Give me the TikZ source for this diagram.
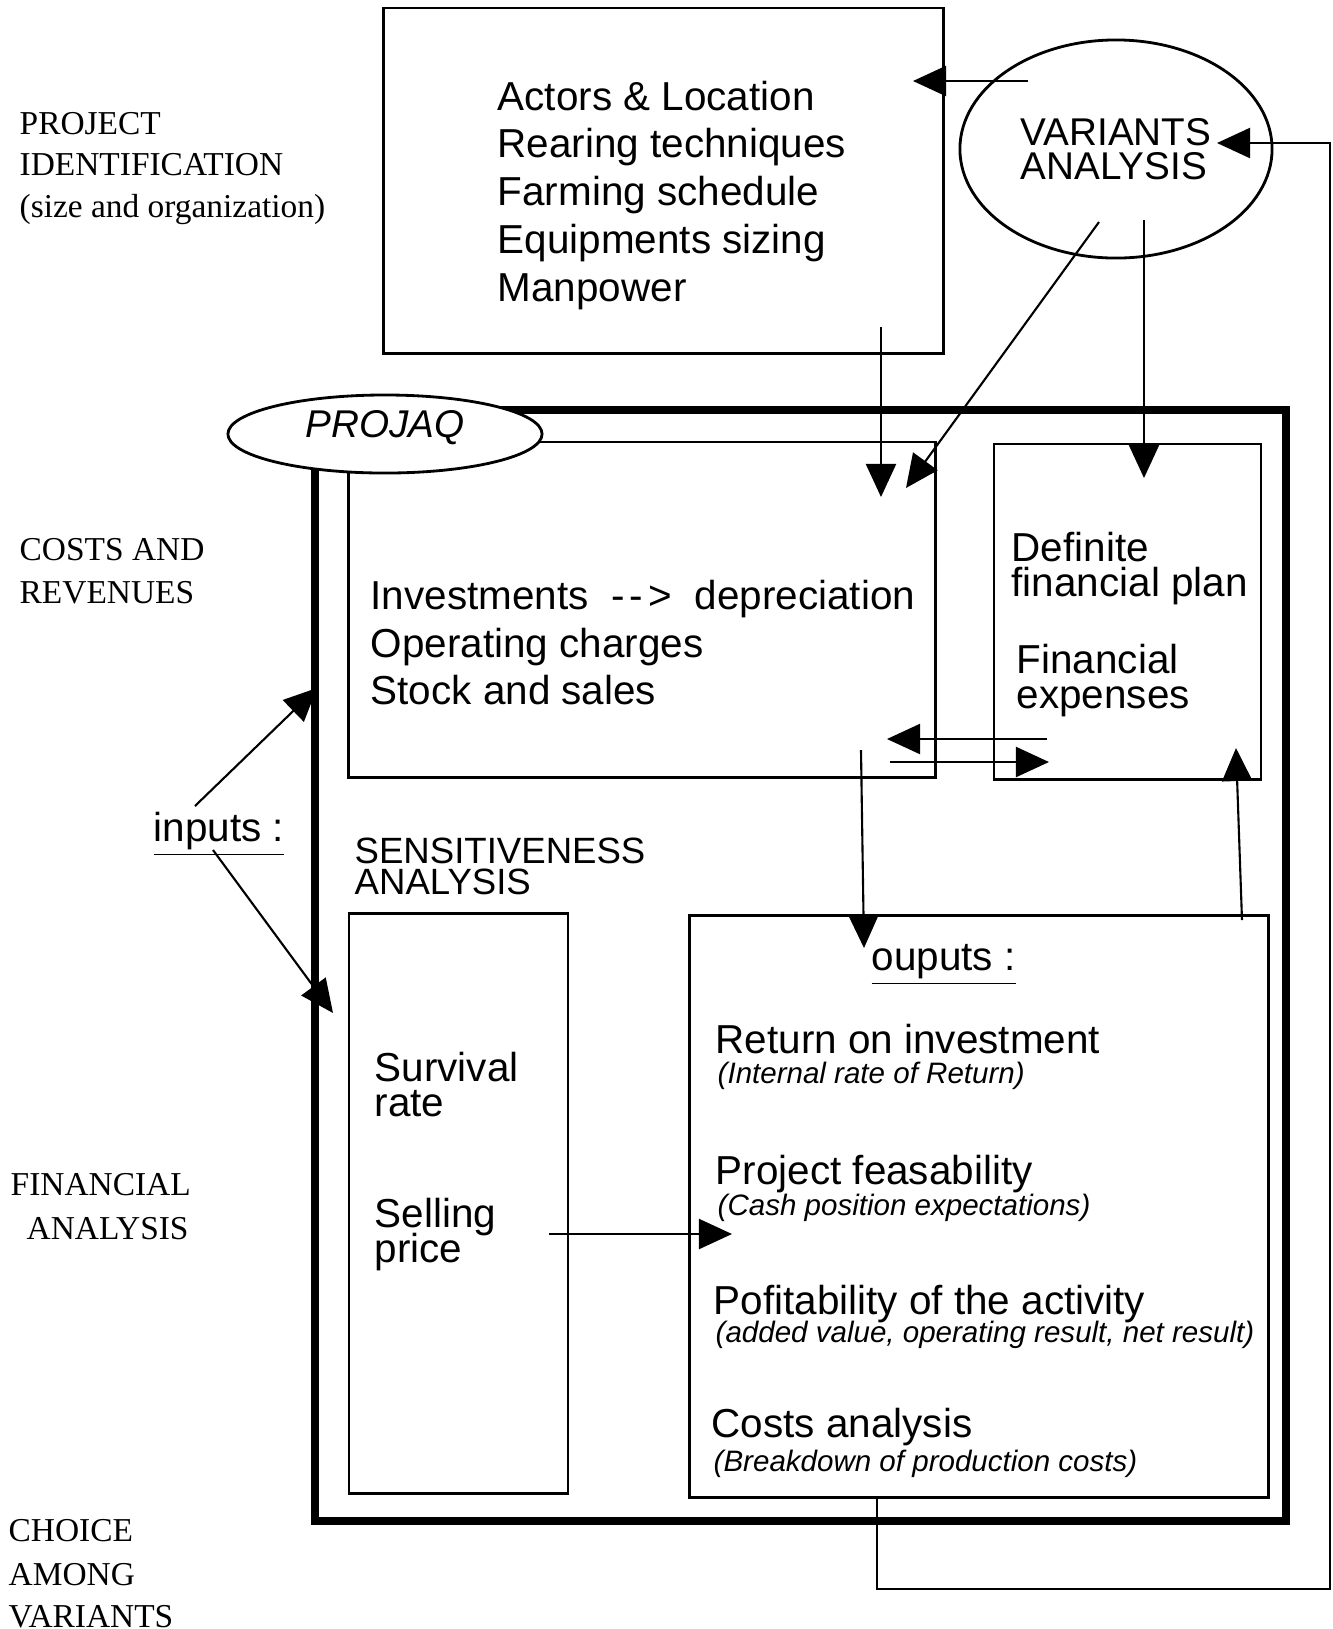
\documentclass[tikz,border=0pt]{standalone}
\usepackage{fontspec}
\setmainfont{Liberation Sans}
\newfontfamily\serifface{Liberation Serif}
\usetikzlibrary{arrows.meta,shapes.geometric}

\begin{document}
\begin{tikzpicture}[x=0.01cm, y=-0.01cm,
        box/.style={draw, line width=0.8pt, inner sep=0pt},
        arr/.style={-{Triangle[length=0.33cm,width=0.3cm]}, line width=0.6pt},
        txt/.style={anchor=base west, inner sep=0pt, font=\fontsize{11.5}{13}\selectfont},
        pair/.style={anchor=base west, inner sep=0pt, align=left,
            font=\fontsize{11.5}{9.8}\selectfont\setlength{\lineskiplimit}{-20pt}},
        note/.style={anchor=base west, inner sep=0pt, font=\fontsize{8.4}{10}\selectfont\itshape},
        side/.style={anchor=base west, inner sep=0pt, font=\fontsize{9.5}{11}\serifface}]
        \useasboundingbox (0,0) rectangle (1332,1629);

        % left column
        \node[side] (pi1) at (19,134) {PROJECT};
        \node[side] (pi2) at (19,175) {IDENTIFICATION};
        \node[side] (pi3) at (19,217) {(size and organization)};
        \node[side] (cr1) at (19,560) {COSTS AND};
        \node[side] (cr2) at (19,603) {REVENUES};
        \node[side] (fa1) at (10,1195) {FINANCIAL};
        \node[side] (fa2) at (26,1239) {ANALYSIS};
        \node[side] (ca1) at (8,1541) {CHOICE};
        \node[side] (ca2) at (8,1585) {AMONG};
        \node[side] (ca3) at (8,1627) {VARIANTS};

        % boxes
        \node[box, minimum width=5.59cm, minimum height=3.45cm] (topbox) at (663.5,180.5) {};
        \node[box, line width=2.3pt, minimum width=9.71cm, minimum height=11.11cm] (frame) at (800.5,965.5) {};
        \node[box, minimum width=5.86cm, minimum height=3.35cm] (inv) at (642,609.5) {};
        \node[box, minimum width=2.67cm, minimum height=3.35cm] (plan) at (1127.5,611.5) {};
        \node[box, minimum width=2.19cm, minimum height=5.79cm] (sens) at (458.5,1203.5) {};
        \node[box, minimum width=5.78cm, minimum height=5.81cm] (outbox) at (979,1206.5) {};

        \node[box, ellipse, fill=white, minimum width=3.14cm, minimum height=0.78cm,
            font=\fontsize{11}{13}\selectfont\itshape, text height=8pt, text depth=6pt] (projaq) at (385,434) {PROJAQ};
        \node[box, ellipse, minimum width=3.12cm, minimum height=2.18cm, align=left,
            font=\fontsize{11}{9.7}\selectfont] (variants) at (1116,149) {VARIANTS\\ANALYSIS};

        % texts
        \node[txt] (t1) at (497,110) {Actors \& Location};
        \node[txt] (t2) at (497,157) {Rearing techniques};
        \node[txt] (t3) at (497,205) {Farming schedule};
        \node[txt] (t4) at (497,253) {Equipments sizing};
        \node[txt] (t5) at (497,301) {Manpower};

        \node[txt] (c1) at (370,609) {Investments \ -\kern1.5pt-\kern1.5pt> \ depreciation};
        \node[txt] (c2) at (370,657) {Operating charges};
        \node[txt] (c3) at (370,704) {Stock and sales};

        \node[pair] (d1) at (1011,596) {Definite\\financial plan};
        \node[pair] (d2) at (1016,708) {Financial\\expenses};

        \node[pair, font=\fontsize{10.4}{8.8}\selectfont\setlength{\lineskiplimit}{-20pt}] (sa) at (354,894) {SENSITIVENESS\\ANALYSIS};

        \node[txt] (inputs) at (153,841) {\underline{inputs :}};
        \node[pair] (s1) at (374,1116) {Survival\\rate};
        \node[pair] (s2) at (374,1262) {Selling\\price};

        \node[txt] (ouputs) at (871,970) {\underline{ouputs :}};
        \node[txt] (o1) at (715,1053) {Return on investment};
        \node[note] (n1) at (717,1083) {(Internal rate of Return)};
        \node[txt] (o2) at (715,1184) {Project feasability};
        \node[note] (n2) at (717,1215) {(Cash position expectations)};
        \node[txt] (o3) at (713,1314) {Pofitability of the activity};
        \node[note] (n3) at (715,1342) {(added value, operating result, net result)};
        \node[txt] (o4) at (711,1437) {Costs analysis};
        \node[note] (n4) at (713,1471) {(Breakdown of production costs)};

        % arrow ends
        \coordinate (va) at (1028,81);
        \coordinate (ta) at (913,81);
        \coordinate (vb) at (1099,222);
        \coordinate (ia) at (906,488);
        \coordinate (vc) at (1144,220);
        \coordinate (pa) at (1144,478);
        \coordinate (tb) at (881,327);
        \coordinate (ib) at (881,497);
        \coordinate (ua) at (195,806);
        \coordinate (fa) at (317,688);
        \coordinate (ub) at (213,850);
        \coordinate (fb) at (333,1013);
        \coordinate (pb) at (1047,739);
        \coordinate (ic) at (887,739);
        \coordinate (id) at (890,762);
        \coordinate (pc) at (1049,762);
        \coordinate (ie) at (861,750);
        \coordinate (oa) at (864,948);
        \coordinate (ob) at (1242,920);
        \coordinate (pd) at (1236,748);
        \coordinate (sb) at (549,1234);
        \coordinate (oc) at (732,1234);
        \coordinate (fb1) at (877,1589);
        \coordinate (fb2) at (1330,1589);
        \coordinate (fb3) at (1330,143);
        \coordinate (vd) at (1217,143);

        % connectors
        \draw[arr] (va) -- (ta);
        \draw[arr] (vb) -- (ia);
        \draw[arr] (vc) -- (pa);
        \draw[arr] (tb) -- (ib);
        \draw[arr] (ua) -- (fa);
        \draw[arr] (ub) -- (fb);
        \draw[arr] (pb) -- (ic);
        \draw[arr] (id) -- (pc);
        \draw[arr] (ie) -- (oa);
        \draw[arr] (ob) -- (pd);
        \draw[arr] (sb) -- (oc);
        \draw[arr] (outbox.south -| fb1) -- (fb1) -- (fb2) -- (fb3) -- (vd);
\end{tikzpicture}
\end{document}
